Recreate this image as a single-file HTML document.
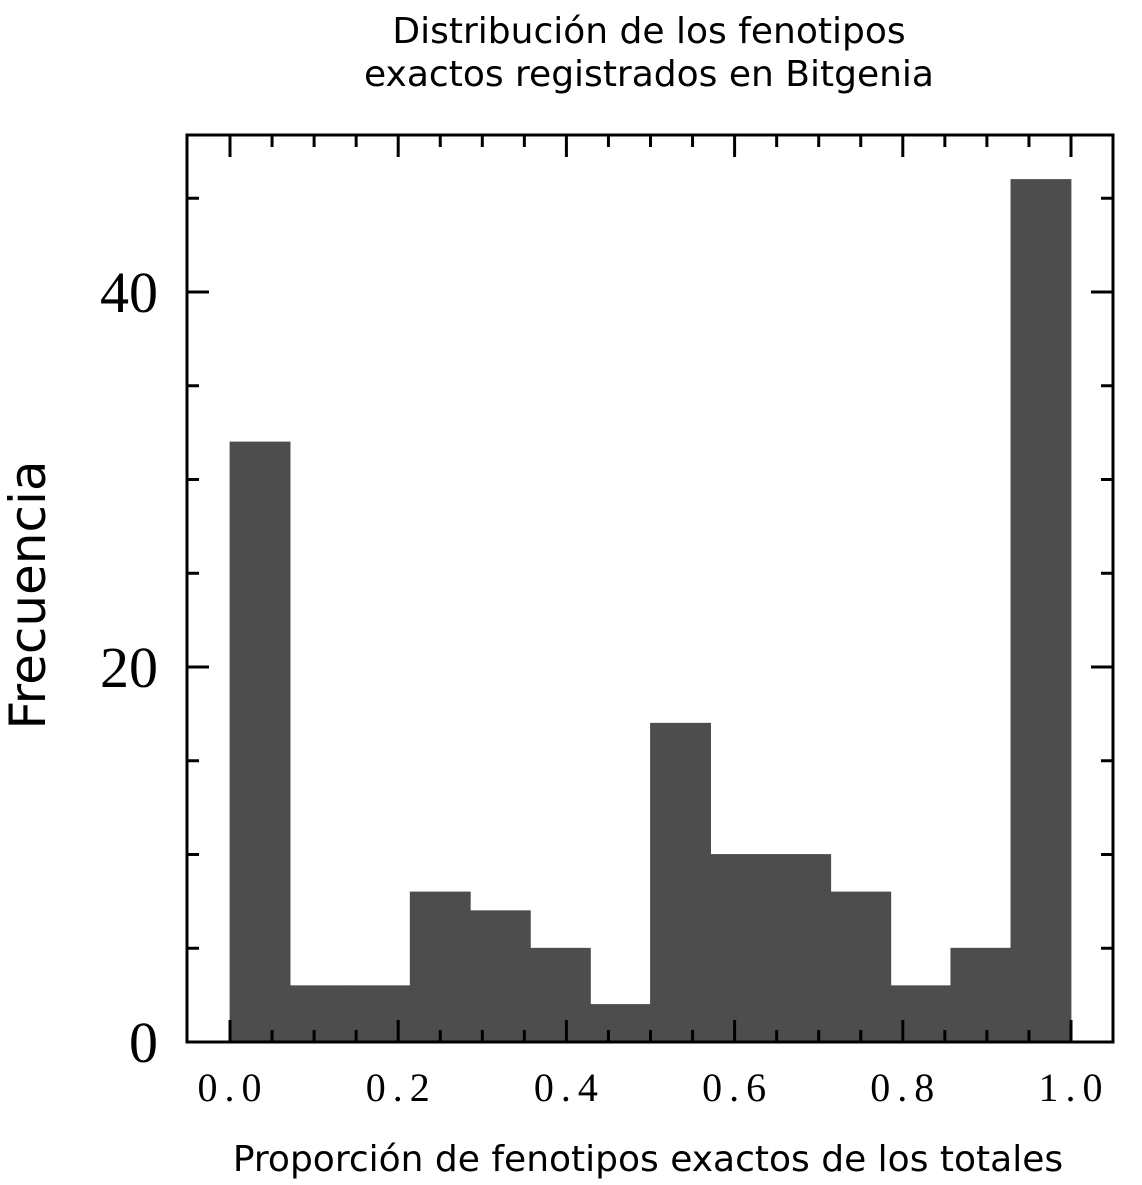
<!DOCTYPE html>
<html><head><meta charset="utf-8"><style>
html,body{margin:0;padding:0;background:#fff;}
svg{display:block;}
.sans{font-family:"DejaVu Sans","Liberation Sans",sans-serif;}
.serif{font-family:"Liberation Serif",serif;}
</style></head><body>
<svg id="chart" width="1142" height="1185" viewBox="0 0 1142 1185">
<text class="sans" x="649" y="43" font-size="36" text-anchor="middle">Distribución de los fenotipos</text>
<text class="sans" x="649" y="86" font-size="36" text-anchor="middle">exactos registrados en Bitgenia</text>
<g id="bars"></g>
<g id="ticks"></g>
<rect x="187" y="135" width="926" height="907" fill="none" stroke="#000" stroke-width="3"/>
<text class="sans" x="648" y="1171" font-size="36" text-anchor="middle">Proporción de fenotipos exactos de los totales</text>
<text class="sans" transform="translate(45,595) rotate(-90)" font-size="50" text-anchor="middle">Frecuencia</text>
</svg>
<script>
const counts = [32, 3, 3, 8, 7, 5, 2, 17, 10, 10, 8, 3, 5, 46];
const xTickLabels = ["0.0", "0.2", "0.4", "0.6", "0.8", "1.0"];
const xTickValues = [0, 0.2, 0.4, 0.6, 0.8, 1.0];
const yTickLabels = ["0", "20", "40"];
const yTickValues = [0, 20, 40];

const NS = "http://www.w3.org/2000/svg";
const xS = v => 230 + v * 841;
const yS = v => 1042 - v * 18.75;
const bars = document.getElementById('bars');
const ticks = document.getElementById('ticks');
const n = counts.length;
counts.forEach((c, i) => {
  const r = document.createElementNS(NS, 'rect');
  const x0 = xS(i / n), x1 = xS((i + 1) / n);
  r.setAttribute('x', x0); r.setAttribute('width', x1 - x0);
  r.setAttribute('y', yS(c)); r.setAttribute('height', yS(0) - yS(c));
  r.setAttribute('fill', '#4d4d4d');
  r.setAttribute('stroke', '#4d4d4d');
  r.setAttribute('stroke-width', '0.8');
  
  
  bars.appendChild(r);
});
function line(x1, y1, x2, y2) {
  const l = document.createElementNS(NS, 'line');
  l.setAttribute('x1', x1); l.setAttribute('y1', y1); l.setAttribute('x2', x2); l.setAttribute('y2', y2);
  l.setAttribute('stroke', '#000'); l.setAttribute('stroke-width', 3);
  
  
  ticks.appendChild(l);
}
for (let k = -1; k <= 21; k++) {
  const v = k * 0.05; const x = xS(v);
  if (x < 188 || x > 1112) continue;
  const major = k % 4 === 0;
  const len = major ? 22 : 12;
  line(x, 1042, x, 1042 - len); line(x, 135, x, 135 + len);
}
for (let v = 0; v <= 48; v += 5) {
  const y = yS(v); if (y < 136) continue;
  const major = v % 20 === 0; const len = major ? 22 : 12;
  line(187, y, 187 + len, y); line(1113, y, 1113 - len, y);
}
xTickValues.forEach((v, i) => {
  const t = document.createElementNS(NS, 'text');
  t.setAttribute('x', xS(v) + 3); t.setAttribute('y', 1101);
  t.setAttribute('class', 'serif'); t.setAttribute('font-size', '40');
  t.setAttribute('text-anchor', 'middle'); t.setAttribute('letter-spacing', '7');
  t.textContent = xTickLabels[i];
  
  
  ticks.appendChild(t);
});
yTickValues.forEach((v, i) => {
  const t = document.createElementNS(NS, 'text');
  t.setAttribute('x', 158); t.setAttribute('y', yS(v) + 20);
  t.setAttribute('class', 'serif'); t.setAttribute('font-size', '58');
  t.setAttribute('text-anchor', 'end');
  t.textContent = yTickLabels[i];
  
  
  ticks.appendChild(t);
});
</script>
</body></html>
